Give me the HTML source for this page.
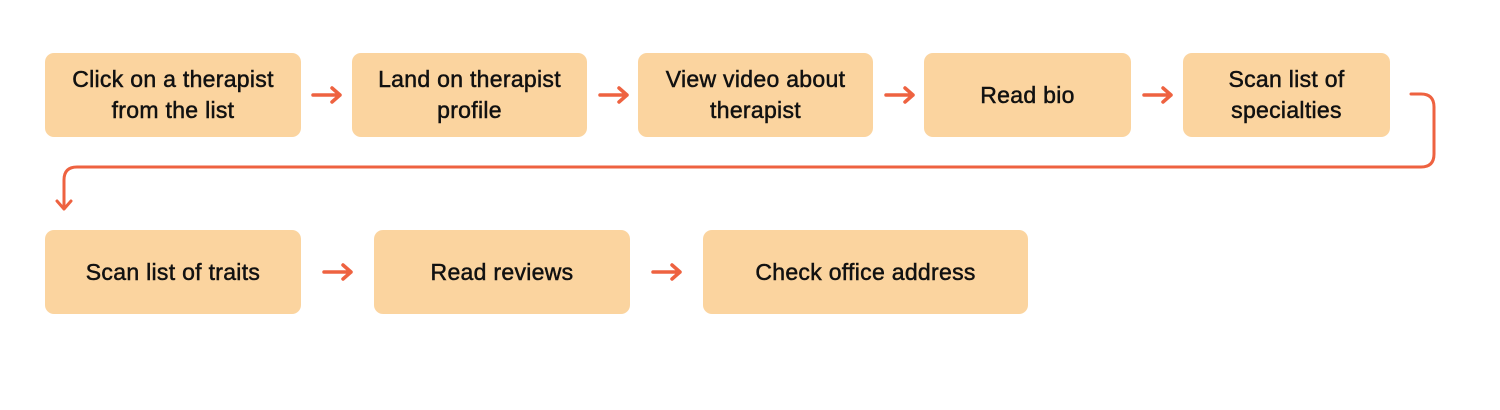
<!DOCTYPE html>
<html><head><style>
body{margin:0;width:1500px;height:410px;background:#fff;position:relative;overflow:hidden;font-family:"Liberation Sans",sans-serif}
.b{position:absolute;background:#FBD49F;border-radius:9px;display:flex;align-items:center;justify-content:center;text-align:center;font-size:23px;line-height:31px;color:#111;letter-spacing:0.3px;-webkit-text-stroke:0.5px #111}
svg{position:absolute;left:0;top:0}
</style></head><body>
<div class="b" style="left:45px;top:53px;width:256px;height:84px">Click on a therapist<br>from the list</div>
<div class="b" style="left:352px;top:53px;width:235px;height:84px">Land on therapist<br>profile</div>
<div class="b" style="left:638px;top:53px;width:235px;height:84px">View video about<br>therapist</div>
<div class="b" style="left:924px;top:53px;width:207px;height:84px">Read bio</div>
<div class="b" style="left:1183px;top:53px;width:207px;height:84px">Scan list of<br>specialties</div>
<div class="b" style="left:45px;top:230px;width:256px;height:84px">Scan list of traits</div>
<div class="b" style="left:374px;top:230px;width:256px;height:84px">Read reviews</div>
<div class="b" style="left:703px;top:230px;width:325px;height:84px">Check office address</div>
<svg width="1500" height="410" fill="none" stroke="#EE6240" stroke-width="3.5" stroke-linecap="round" stroke-linejoin="round">
<g>
<path d="M313 95H340M332 88L340 95L332 102"/>
<path d="M600 95H627M619 88L627 95L619 102"/>
<path d="M886 95H913M905 88L913 95L905 102"/>
<path d="M1144 95H1171M1163 88L1171 95L1163 102"/>
<path d="M324 272H351M343 265L351 272L343 279"/>
<path d="M653 272H680M672 265L680 272L672 279"/>
<path d="M1411 94H1421Q1434 94 1434 107V154Q1434 167 1421 167H77Q64 167 64 180V209M57 201L64 209L71 201" stroke-width="3"/>
</g>
</svg>
</body></html>
